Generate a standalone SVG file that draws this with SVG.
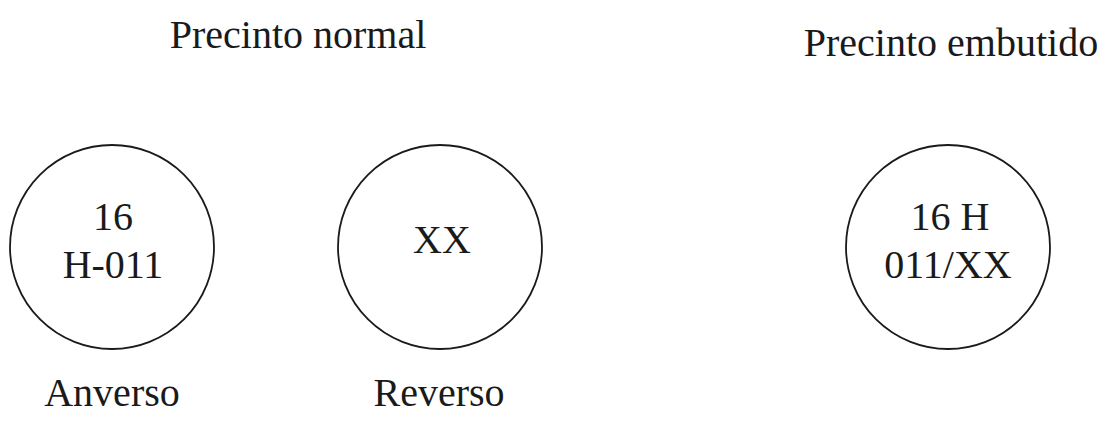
<svg xmlns="http://www.w3.org/2000/svg" width="1112" height="426" viewBox="0 0 1112 426">
<style>
text{font-family:"Liberation Serif","Times New Roman",serif;fill:#1a1a1a;text-anchor:middle;font-size:40px}
circle{fill:none;stroke:#1a1a1a;stroke-width:1.8}
</style>
<rect width="1112" height="426" fill="#fff"/>
<g id="title-normal"><text x="298" y="48">Precinto normal</text></g>
<g id="title-embutido"><text x="951" y="56">Precinto embutido</text></g>
<g id="anverso">
<circle cx="112" cy="247" r="102"/>
<text x="113" y="230">16</text>
<text x="113" y="278">H-011</text>
<text x="112" y="406">Anverso</text>
</g>
<g id="reverso">
<circle cx="440" cy="247" r="102"/>
<text x="442" y="253">XX</text>
<text x="439" y="406">Reverso</text>
</g>
<g id="embutido">
<circle cx="948" cy="247" r="102"/>
<text x="950" y="230">16 H</text>
<text x="948" y="278">011/XX</text>
</g>
<g id="connectors"></g>
</svg>
